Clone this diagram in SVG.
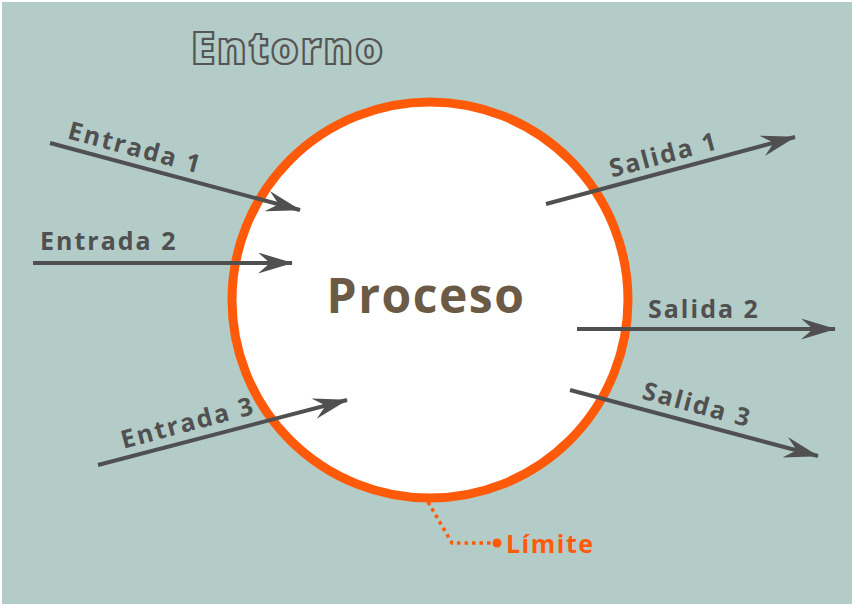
<svg xmlns="http://www.w3.org/2000/svg" width="854" height="607" viewBox="0 0 854 607">
<defs>
<style>
.lbl{font-family:"Open Sans","Liberation Sans",sans-serif;font-weight:700;font-size:25px;letter-spacing:2px;fill:#505050}
.arr{stroke:#505050;stroke-width:4;fill:none}
</style>
<marker id="ah" viewBox="0 0 35 21" refX="34" refY="10.5" markerWidth="35" markerHeight="21" markerUnits="userSpaceOnUse" orient="auto">
<path d="M0,0 L35,10.5 L0,21 L12,10.5 Z" fill="#505050"/>
</marker>
</defs>
<rect x="2" y="2" width="850" height="602" fill="#b3ccc8"/>
<g id="entorno">
<text x="288" y="64" text-anchor="middle" font-family="Open Sans, Liberation Sans, sans-serif" font-weight="800" font-size="44" letter-spacing="2" fill="#b3ccc8" stroke="#555" stroke-width="2.2">Entorno</text>
</g>
<g id="proceso">
<circle cx="430" cy="300" r="198" fill="#fff" stroke="#ff5a0a" stroke-width="9"/>
<text x="426" y="313" text-anchor="middle" font-family="Open Sans, Liberation Sans, sans-serif" font-weight="700" font-size="48" letter-spacing="1.5" fill="#6b5a45">Proceso</text>
</g>
<g id="limite">
<path d="M428,502 L452,543 L494,543" stroke="#ff5a0a" stroke-width="3.5" stroke-dasharray="3.5,4" fill="none"/>
<circle cx="497" cy="543" r="4.5" fill="#ff5a0a"/>
<text x="506" y="553" font-family="Open Sans, Liberation Sans, sans-serif" font-weight="700" font-size="25" letter-spacing="1.5" fill="#ff5a0a">Límite</text>
</g>
<g id="connectors">
<line class="arr" x1="50" y1="143" x2="300" y2="210" marker-end="url(#ah)"/>
<line class="arr" x1="33" y1="263" x2="292" y2="263" marker-end="url(#ah)"/>
<line class="arr" x1="98" y1="465" x2="347" y2="400" marker-end="url(#ah)"/>
<line class="arr" x1="546" y1="204" x2="795" y2="137" marker-end="url(#ah)"/>
<line class="arr" x1="577" y1="329" x2="835" y2="329" marker-end="url(#ah)"/>
<line class="arr" x1="570" y1="390" x2="818" y2="456" marker-end="url(#ah)"/>
</g>
<g id="entrada1"><text class="lbl" text-anchor="middle" transform="translate(133,156) rotate(15)">Entrada 1</text></g>
<g id="entrada2"><text class="lbl" x="40" y="250">Entrada 2</text></g>
<g id="entrada3"><text class="lbl" text-anchor="middle" transform="translate(190,431) rotate(-15)">Entrada 3</text></g>
<g id="salida1"><text class="lbl" text-anchor="middle" transform="translate(666,163) rotate(-15)">Salida 1</text></g>
<g id="salida2"><text class="lbl" x="648" y="318">Salida 2</text></g>
<g id="salida3"><text class="lbl" text-anchor="middle" transform="translate(695,413) rotate(15)">Salida 3</text></g>
</svg>
